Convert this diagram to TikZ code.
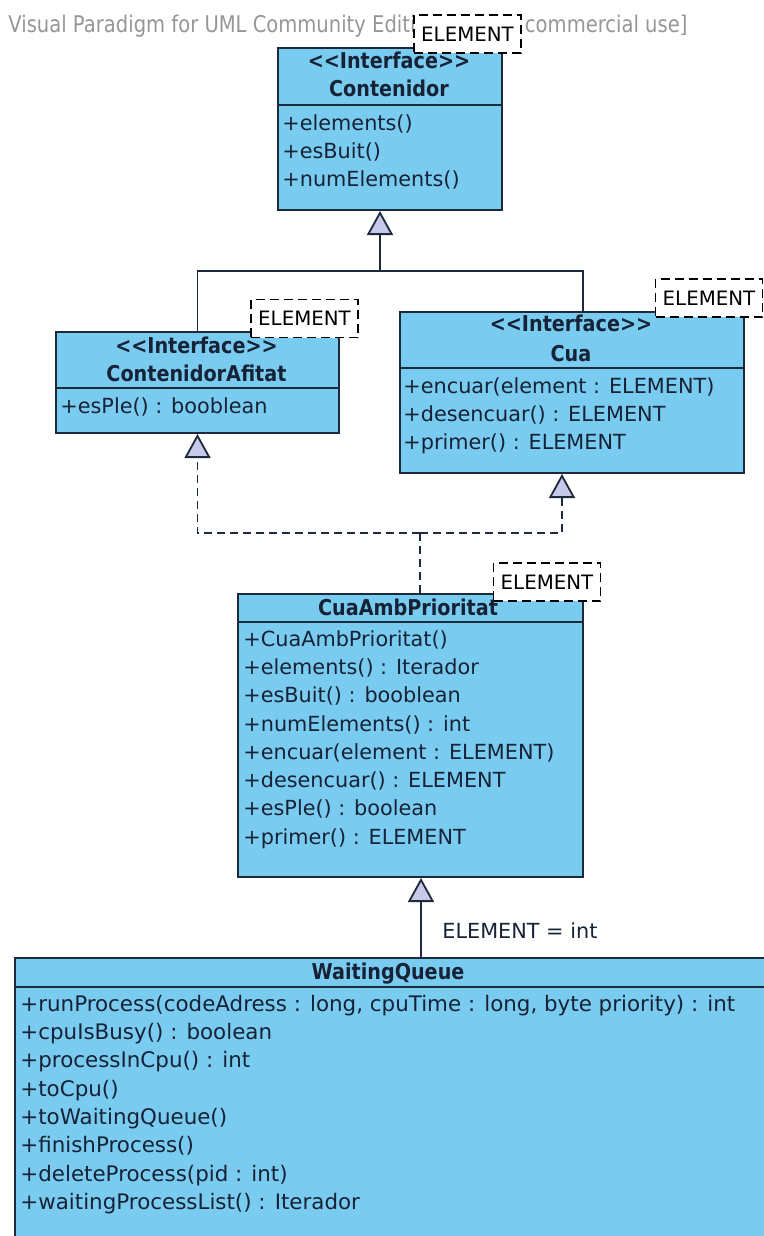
\documentclass[tikz,border=0pt]{standalone}
\usepackage{fontspec}
\setmainfont{DejaVu Sans}
\newfontfamily\headfont[FakeStretch=0.88]{DejaVu Sans}
\newfontfamily\markfont[FakeStretch=0.85]{DejaVu Sans}
\usetikzlibrary{arrows.meta}

\definecolor{boxc}{RGB}{122,203,240}
\definecolor{linec}{RGB}{28,42,60}
\definecolor{textc}{RGB}{22,34,54}
\definecolor{trifill}{RGB}{200,200,234}
\definecolor{markc}{RGB}{150,150,150}

\tikzset{
  classbox/.style={draw=linec, fill=boxc, line width=1pt, inner sep=0pt},
  mbr/.style={anchor=west, inner sep=0pt, text=textc, text height=7.6pt, text depth=1.6pt,
    font=\fontsize{10.4}{12}\selectfont},
  wqmbr/.style={mbr, font=\fontsize{10.7}{12}\selectfont},
  hdr/.style={inner sep=0pt, text=textc, text height=7.6pt, text depth=1.6pt,
    font=\headfont\bfseries\fontsize{10.9}{12}\selectfont},
  tagbox/.style={draw=black, fill=white, line width=0.8pt, dash pattern=on 4.5pt off 2.5pt,
    inner sep=0pt, minimum width=53.5pt, minimum height=19pt, font=\fontsize{9.9}{12}\selectfont},
  genline/.style={draw=linec, line width=0.9pt, -{Triangle[fill=trifill, length=12pt, width=13pt]}},
  dashline/.style={draw=linec, line width=0.9pt, dash pattern=on 4pt off 2.5pt},
  realline/.style={dashline, -{Triangle[fill=trifill, length=12pt, width=13pt]}},
}

\begin{document}
\begin{tikzpicture}[x=0.5pt, y=-0.5pt]
  \useasboundingbox (0,0) rectangle (764,1236);

  \node[anchor=west, inner sep=0pt, text=markc, font=\markfont\fontsize{11.5}{13}\selectfont] (mark) at (8,26)
    {Visual Paradigm for UML Community Edition [not for commercial use]};

  % class boxes
  \node[classbox, minimum width=112pt, minimum height=81pt] (cont) at (390,129) {};
  \node[classbox, minimum width=141.5pt, minimum height=50.5pt] (afit) at (197.5,382.5) {};
  \node[classbox, minimum width=172pt, minimum height=80.5pt] (cua) at (572,392.5) {};
  \node[classbox, minimum width=172.5pt, minimum height=141.5pt] (prio) at (410.5,735.5) {};
  \node[classbox, minimum width=377.5pt, minimum height=146pt] (wq) at (392.5,1104) {};

  \draw[linec, line width=1pt] (cont.west |- 0,105) -- (cont.east |- 0,105);
  \draw[linec, line width=1pt] (afit.west |- 0,388) -- (afit.east |- 0,388);
  \draw[linec, line width=1pt] (cua.west |- 0,368) -- (cua.east |- 0,368);
  \draw[linec, line width=1pt] (prio.west |- 0,622) -- (prio.east |- 0,622);
  \draw[linec, line width=1pt] (wq.west |- 0,987) -- (wq.east |- 0,987);

  % Contenidor
  \node[hdr] (conts) at (389,63) {{<}{<}Interface{>}{>}};
  \node[hdr] (contn) at (389,91) {Contenidor};
  \node[mbr] (cont1) at (282,125) {+elements()};
  \node[mbr] (cont2) at (282,152) {+esBuit()};
  \node[mbr] (cont3) at (282,180) {+numElements()};

  % ContenidorAfitat
  \node[hdr] (afits) at (196.5,347) {{<}{<}Interface{>}{>}};
  \node[hdr] (afitn) at (196.5,375) {ContenidorAfitat};
  \node[mbr] (afit1) at (60,407) {+esPle() : booblean};

  % Cua
  \node[hdr] (cuas) at (571,325) {{<}{<}Interface{>}{>}};
  \node[hdr] (cuan) at (571,355) {Cua};
  \node[mbr] (cua1) at (403,387) {+encuar(element : ELEMENT)};
  \node[mbr] (cua2) at (403,415) {+desencuar() : ELEMENT};
  \node[mbr] (cua3) at (403,443) {+primer() : ELEMENT};

  % CuaAmbPrioritat
  \node[hdr] (prion) at (408,609) {CuaAmbPrioritat};
  \node[mbr] (prio1) at (243,640) {+CuaAmbPrioritat()};
  \node[mbr] (prio2) at (243,668) {+elements() : Iterador};
  \node[mbr] (prio3) at (243,696.5) {+esBuit() : booblean};
  \node[mbr] (prio4) at (243,725) {+numElements() : int};
  \node[mbr] (prio5) at (243,753) {+encuar(element : ELEMENT)};
  \node[mbr] (prio6) at (243,781) {+desencuar() : ELEMENT};
  \node[mbr] (prio7) at (243,809.5) {+esPle() : boolean};
  \node[mbr] (prio8) at (243,838) {+primer() : ELEMENT};

  % WaitingQueue
  \node[hdr] (wqn) at (388,973) {WaitingQueue};
  \node[wqmbr] (wq1) at (20,1005) {+runProcess(codeAdress : long, cpuTime : long, byte priority) : int};
  \node[wqmbr] (wq2) at (20,1033) {+cpuIsBusy() : boolean};
  \node[wqmbr] (wq3) at (20,1061.5) {+processInCpu() : int};
  \node[wqmbr] (wq4) at (20,1090) {+toCpu()};
  \node[wqmbr] (wq5) at (20,1118) {+toWaitingQueue()};
  \node[wqmbr] (wq6) at (20,1146.5) {+finishProcess()};
  \node[wqmbr] (wq7) at (20,1175) {+deleteProcess(pid : int)};
  \node[wqmbr] (wq8) at (20,1203) {+waitingProcessList() : Iterador};

  % template parameters
  \node[tagbox] (conttag) at (467.5,34) {ELEMENT};
  \node[tagbox] (afittag) at (304.5,318.5) {ELEMENT};
  \node[tagbox] (cuatag) at (709,298) {ELEMENT};
  \node[tagbox] (priotag) at (547,582) {ELEMENT};

  % generalisation
  \coordinate (joint) at (380,271);
  \draw[genline] (joint) -- (cont.south -| joint);
  \draw[linec, line width=0.9pt] (afit.north) |- (joint) -| (cua.north -| 583,0);

  % realisation
  \coordinate (split) at (420,533);
  \draw[dashline] (prio.north -| split) -- (split);
  \draw[realline] (split) -| (afit.south);
  \draw[realline] (split) -| (cua.south -| 562,0);

  % binding
  \draw[genline] (wq.north -| 421,0) -- (prio.south -| 421,0);
  \node[mbr] (bind) at (442,932) {ELEMENT = int};
\end{tikzpicture}
\end{document}
